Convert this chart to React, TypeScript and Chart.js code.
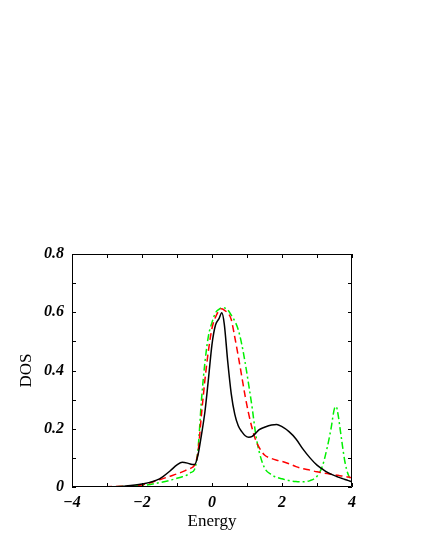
import React, { useEffect, useRef } from "react";
import { Chart, registerables } from "chart.js";

Chart.register(...registerables);

const energies = [-4, -3, -2.5, -2, -1.5, -1.2, -1.0, -0.85, -0.7, -0.6, -0.5, -0.4, -0.3, -0.2, -0.1, 0.0, 0.1, 0.2, 0.28, 0.35, 0.45, 0.55, 0.65, 0.75, 0.85, 0.95, 1.05, 1.15, 1.25, 1.35, 1.5, 1.7, 1.85, 2.0, 2.2, 2.4, 2.6, 2.8, 3.0, 3.15, 3.3, 3.4, 3.5, 3.55, 3.6, 3.7, 3.8, 3.9, 4.0];

const dosBlack = [0, 0.001, 0.003, 0.01, 0.028, 0.055, 0.076, 0.085, 0.082, 0.078, 0.077, 0.11, 0.18, 0.26, 0.373, 0.49, 0.556, 0.578, 0.598, 0.56, 0.43, 0.32, 0.25, 0.21, 0.19, 0.176, 0.171, 0.174, 0.185, 0.197, 0.205, 0.213, 0.215, 0.207, 0.19, 0.165, 0.13, 0.1, 0.075, 0.062, 0.05, 0.044, 0.039, 0.037, 0.034, 0.03, 0.026, 0.022, 0.018];

const dosRed = [0, 0.001, 0.003, 0.007, 0.025, 0.037, 0.045, 0.052, 0.06, 0.065, 0.075, 0.12, 0.25, 0.37, 0.47, 0.545, 0.583, 0.605, 0.612, 0.607, 0.598, 0.575, 0.515, 0.45, 0.38, 0.31, 0.25, 0.2, 0.16, 0.135, 0.11, 0.098, 0.092, 0.088, 0.08, 0.07, 0.063, 0.058, 0.052, 0.049, 0.046, 0.044, 0.042, 0.041, 0.04, 0.038, 0.036, 0.034, 0.032];

const dosGreen = [0, 0, 0.002, 0.005, 0.015, 0.023, 0.03, 0.035, 0.042, 0.05, 0.06, 0.13, 0.3, 0.43, 0.52, 0.565, 0.598, 0.61, 0.616, 0.615, 0.608, 0.59, 0.57, 0.54, 0.49, 0.425, 0.35, 0.27, 0.18, 0.12, 0.066, 0.042, 0.033, 0.028, 0.022, 0.019, 0.018, 0.022, 0.037, 0.07, 0.14, 0.2, 0.27, 0.276, 0.25, 0.165, 0.085, 0.04, 0.022];

const xTicks = [-4, -3, -2, -1, 0, 1, 2, 3, 4];
const yTicks = [0, 0.1, 0.2, 0.3, 0.4, 0.5, 0.6, 0.7, 0.8];
const xLabels = [-4, -2, 0, 2, 4];
const yLabels = [0, 0.2, 0.4, 0.6, 0.8];

const toPoints = (ys: number[]) => energies.map((x, i) => ({ x, y: ys[i] }));

const framePlugin = {
  id: "frame",
  afterDatasetsDraw(chart: any) {
    const { ctx, chartArea } = chart;
    const { left, right, top, bottom } = chartArea;
    const xs = chart.scales.x;
    const ys = chart.scales.y;
    ctx.save();
    ctx.strokeStyle = "#000";
    ctx.lineWidth = 1;
    ctx.beginPath();
    ctx.rect(left + 0.5, top + 0.5, right - left - 1, bottom - top - 1);
    ctx.stroke();
    const len = 4;
    ctx.beginPath();
    xTicks.forEach((v) => {
      const px = Math.round(xs.getPixelForValue(v)) + 0.5;
      ctx.moveTo(px, bottom);
      ctx.lineTo(px, bottom - len);
      ctx.moveTo(px, top);
      ctx.lineTo(px, top + len);
    });
    yTicks.forEach((v) => {
      const py = Math.round(ys.getPixelForValue(v)) + 0.5;
      ctx.moveTo(left, py);
      ctx.lineTo(left + len, py);
      ctx.moveTo(right, py);
      ctx.lineTo(right - len, py);
    });
    ctx.stroke();
    ctx.restore();
  },
};

export default function App() {
  const ref = useRef<HTMLCanvasElement>(null);
  useEffect(() => {
    if (!ref.current) return;
    const tickFont = { family: "'Liberation Serif', 'DejaVu Serif', serif", size: 16, weight: "bold" as const, style: "italic" as const };
    const titleFont = { family: "'Liberation Serif', 'DejaVu Serif', serif", size: 17 };
    const common = { pointRadius: 0, borderWidth: 1.5, fill: false, cubicInterpolationMode: "monotone" as const };
    const chart = new Chart(ref.current, {
      type: "line",
      data: {
        datasets: [
          { ...common, label: "black", data: toPoints(dosBlack), borderColor: "#000000" },
          { ...common, label: "red", data: toPoints(dosRed), borderColor: "#ff0000", borderDash: [7, 4] },
          { ...common, label: "green", data: toPoints(dosGreen), borderColor: "#00f000", borderDash: [7, 3, 2, 3] },
        ],
      },
      options: {
        responsive: false,
        animation: false,
        devicePixelRatio: 1,
        layout: { padding: { left: 16, top: 254, right: 73, bottom: 13 } },
        plugins: { legend: { display: false }, tooltip: { enabled: false } },
        scales: {
          x: {
            type: "linear",
            min: -4,
            max: 4,
            afterFit: (s: any) => { s.height = 50; },
            afterBuildTicks: (s: any) => { s.ticks = xLabels.map((v) => ({ value: v })); },
            grid: { display: false, drawTicks: false },
            border: { display: false },
            ticks: {
              padding: 6,
              color: "#000",
              font: tickFont,
              maxRotation: 0,
              callback: (v: any) => (Number(v) < 0 ? "\u2212" + Math.abs(Number(v)) : String(v)),
            },
            title: { display: true, text: "Energy", color: "#000", font: titleFont, padding: { top: 0, bottom: 5 } },
          },
          y: {
            type: "linear",
            min: 0,
            max: 0.8,
            afterFit: (s: any) => { s.width = 56; },
            afterBuildTicks: (s: any) => { s.ticks = yLabels.map((v) => ({ value: v })); },
            grid: { display: false, drawTicks: false },
            border: { display: false },
            ticks: {
              padding: 8,
              color: "#000",
              font: tickFont,
              callback: (v: any) => (Number(v) === 0 ? "0" : Number(v).toFixed(1)),
            },
            title: { display: true, text: "DOS", color: "#000", font: titleFont, padding: { top: 0, bottom: 0 } },
          },
        },
      },
      plugins: [framePlugin],
    });
    return () => chart.destroy();
  }, []);
  return (
    <div style={{ position: "absolute", left: 0, top: 0, width: 425, height: 550, background: "#fff" }}>
      <canvas ref={ref} width={425} height={550} />
    </div>
  );
}
